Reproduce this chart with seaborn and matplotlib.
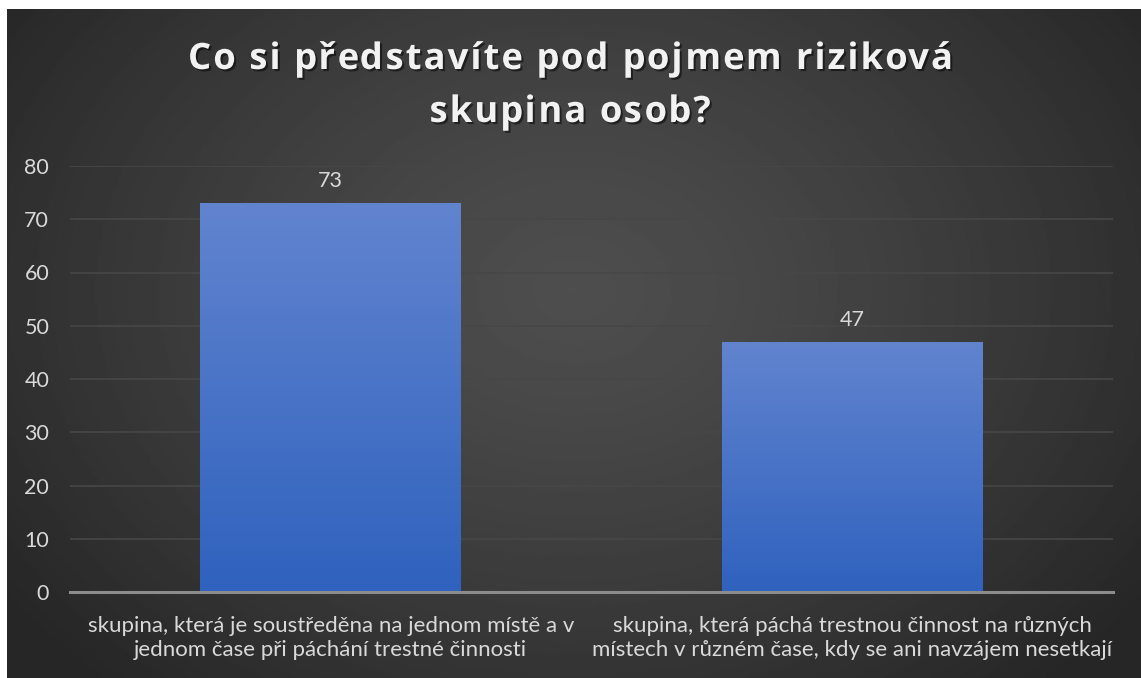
import numpy as np
import pandas as pd
import seaborn as sns
import matplotlib.pyplot as plt
import matplotlib.patheffects as pe
from matplotlib.colors import LinearSegmentedColormap

# --- data ---
title_lines = ["Co si představíte pod pojmem riziková", "skupina osob?"]
categories = [
    "skupina, která je soustředěna na jednom místě a v\njednom čase při páchání trestné činnosti",
    "skupina, která páchá trestnou činnost na různých\nmístech v různém čase, kdy se ani navzájem nesetkají",
]
values = [73, 47]
yticks = [0, 10, 20, 30, 40, 50, 60, 70, 80]

df = pd.DataFrame({"kategorie": categories, "pocet": values})

sns.set_theme(style="dark")
plt.rcParams['font.family'] = ['Lato', 'DejaVu Sans']

W, H = 1141, 678
fig = plt.figure(figsize=(W / 100, H / 100), dpi=100, facecolor="white")

# dark radial background (white strip at top and left like the original)
bg = fig.add_axes([7 / W, 0, 1 - 7 / W, 1 - 9 / H])
bg.set_axis_off()
yy, xx = np.mgrid[0:1:300j, 0:1:500j]
r = np.sqrt(((xx - 0.5) / 0.62) ** 2 + ((yy - 0.42) / 0.8) ** 2)
r = np.clip(r, 0, 1)
shade = 0.305 - (0.305 - 0.15) * r ** 1.3
bg.imshow(shade, cmap="gray", vmin=0, vmax=1, aspect="auto", extent=[0, 1, 0, 1])

# main axes
ax = fig.add_axes([70 / W, (H - 592) / H, (1113 - 70) / W, (592 - 166) / H])
ax.patch.set_alpha(0)
sns.barplot(data=df, x="kategorie", y="pocet", width=0.5, color="#4472c4",
            ax=ax, zorder=3)

# vertical gradient fill in bars
grad = np.linspace(0, 1, 256).reshape(-1, 1)
bar_cmap = LinearSegmentedColormap.from_list("bar", ["#2f62be", "#6284cf"])
for i, p in enumerate(ax.patches):
    x0, y0 = p.get_x(), p.get_y()
    w, h = p.get_width(), p.get_height()
    p.set_alpha(0)
    im = ax.imshow(grad, cmap=bar_cmap, aspect="auto", origin="lower",
                   extent=[x0, x0 + w, y0, y0 + h], zorder=3)
    im.set_clip_path(p)
    ax.annotate(f"{values[i]}", (x0 + w / 2, y0 + h),
                xytext=(0, 11.5), textcoords="offset points", ha="center",
                va="baseline", color="#d9d9d9", fontsize=15.5)

ax.set_xlim(-0.5, 1.5)
ax.set_ylim(0, 80)
ax.set_yticks(yticks)
ax.yaxis.grid(True, color="#474747", linewidth=1.2, zorder=0)
ax.xaxis.grid(False)
for s in ["top", "right", "left"]:
    ax.spines[s].set_visible(False)
ax.spines["bottom"].set_color("#8c8c8c")
ax.spines["bottom"].set_linewidth(2.2)
ax.spines["bottom"].set_zorder(4)
ax.set_xlabel("")
ax.set_ylabel("")
ax.tick_params(axis="y", colors="#d9d9d9", labelsize=15.5, length=0, pad=15)
ax.tick_params(axis="x", colors="#d9d9d9", labelsize=16, length=0, pad=17)
for t in ax.get_xticklabels():
    t.set_linespacing(1.26)

# title with letter spacing, drawn one glyph at a time
renderer = fig.canvas.get_renderer()
tkw = dict(color="#f2f2f2", fontsize=26.2, fontweight="bold",
           family=["Open Sans", "DejaVu Sans"])
shadow = [pe.withSimplePatchShadow(offset=(1.5, -1.5), shadow_rgbFace="black", alpha=0.5)]


def text_w(s):
    t = fig.text(0, 0, s, **tkw)
    wpx = t.get_window_extent(renderer).width
    t.remove()
    return wpx


probe = text_w("x")
line1 = title_lines[0]
spacing = (765 - text_w(line1)) / (len(line1) - 1)
for line, base in zip(title_lines, [69, 122]):
    adv = [text_w(line[:k] + "x") - probe if k else 0 for k in range(len(line))]
    total = text_w(line) + spacing * (len(line) - 1)
    start = W / 2 - total / 2
    for k, ch in enumerate(line):
        if ch == " ":
            continue
        fig.text((start + adv[k] + k * spacing) / W, 1 - base / H, ch,
                 ha="left", va="baseline", path_effects=shadow, **tkw)

fig.savefig("out.png", dpi=100, facecolor=fig.get_facecolor())
